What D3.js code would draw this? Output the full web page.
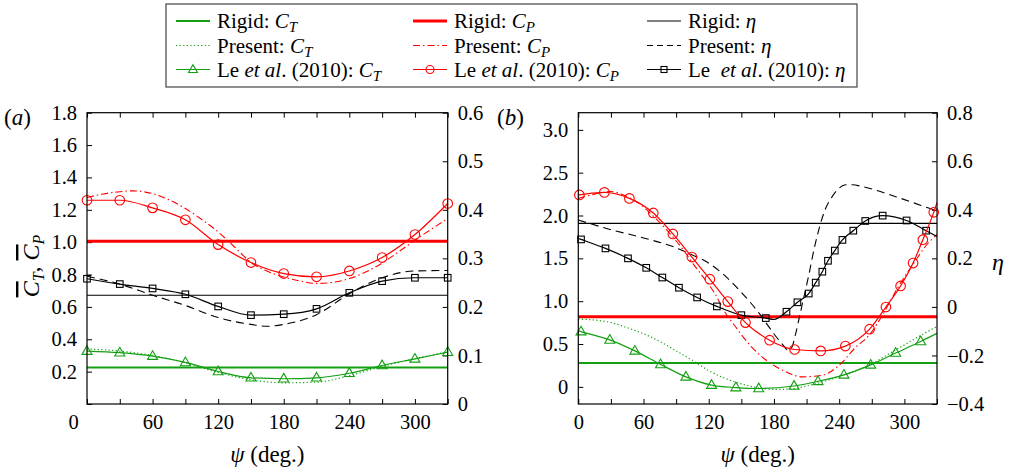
<!DOCTYPE html>
<html><head><meta charset="utf-8">
<script src="https://cdn.jsdelivr.net/npm/d3@7"></script>
<style>
body{margin:0;background:#fff}
svg{display:block}
svg text{font-family:"Liberation Serif","Times New Roman",Times,serif !important;fill:#000}
</style></head>
<body><svg id="c" width="1017" height="472" font-family="Liberation Serif"></svg>
<script>
// ---------------- DATA ----------------
const xTicks = [0, 30, 60, 90, 120, 150, 180, 210, 240, 270, 300, 330];
const xLabels = [0, 60, 120, 180, 240, 300];

// Panel (a)
const aLeftTicks = [0, 0.2, 0.4, 0.6, 0.8, 1.0, 1.2, 1.4, 1.6, 1.8];
const aLeftLabels = [0.2, 0.4, 0.6, 0.8, 1.0, 1.2, 1.4, 1.6, 1.8];
const aRightTicks = [0, 0.1, 0.2, 0.3, 0.4, 0.5, 0.6];
const aRigidCT = 0.225, aRigidCP = 1.005, aRigidEta = 0.224;
const aPresentCT = [[0,0.34],[30,0.327],[60,0.30],[90,0.255],[120,0.195],[150,0.15],[180,0.131],[210,0.135],[240,0.175],[270,0.232],[300,0.28],[330,0.322]];
const aPresentCP = [[0,1.276],[15,1.298],[30,1.312],[42,1.317],[60,1.30],[75,1.262],[90,1.208],[105,1.14],[120,1.063],[135,0.97],[150,0.875],[165,0.82],[180,0.785],[195,0.76],[210,0.745],[225,0.752],[240,0.775],[255,0.815],[270,0.871],[285,0.94],[300,1.012],[315,1.08],[330,1.146]];
const aPresentEta = [[0,0.263],[30,0.247],[60,0.224],[90,0.203],[120,0.178],[150,0.164],[165,0.16],[180,0.164],[210,0.184],[240,0.227],[270,0.26],[300,0.274],[330,0.275]];
const aLeCT = [[0,0.327],[30,0.317],[60,0.296],[90,0.257],[120,0.201],[150,0.162],[180,0.156],[210,0.162],[240,0.19],[270,0.238],[300,0.279],[330,0.32]];
const aLeCP = [[0,1.259],[30,1.259],[60,1.212],[90,1.138],[120,0.985],[150,0.874],[180,0.806],[210,0.786],[240,0.822],[270,0.905],[300,1.047],[330,1.239]];
const aLeEta = [[0,0.258],[30,0.247],[60,0.238],[90,0.226],[120,0.201],[150,0.183],[180,0.185],[210,0.196],[240,0.229],[270,0.253],[300,0.26],[330,0.26]];

// Panel (b)
const bLeftTicks = [0, 0.5, 1.0, 1.5, 2.0, 2.5, 3.0];
const bLeftLabels = ["0", "0.5", "1.0", "1.5", "2.0", "2.5", "3.0"];
const bRightTicks = [-0.4, -0.2, 0, 0.2, 0.4, 0.6, 0.8];
const bRightLabels = ["\u22120.4", "\u22120.2", "0", "0.2", "0.4", "0.6", "0.8"];
const bRigidCT = 0.28, bRigidCP = 0.817, bRigidEta = 0.344;
const bPresentCT = [[0,0.79],[15,0.78],[30,0.75],[45,0.69],[60,0.62],[75,0.53],[90,0.42],[105,0.31],[120,0.19],[135,0.10],[150,0.035],[165,-0.01],[180,-0.03],[195,-0.025],[210,0.01],[225,0.06],[240,0.12],[255,0.19],[270,0.27],[285,0.38],[300,0.49],[315,0.6],[330,0.705]];
const bPresentCP = [[0,2.20],[15,2.25],[30,2.28],[45,2.22],[60,2.10],[70,1.98],[87,1.75],[96.5,1.60],[106,1.43],[115,1.28],[125.6,1.09],[136,0.85],[142.4,0.74],[157.7,0.49],[173,0.31],[188,0.195],[206,0.117],[225,0.137],[240,0.253],[255,0.46],[268,0.61],[279,0.82],[295,1.18],[309,1.45],[320,1.65],[330,1.78]];
const bPresentEta = [[0,0.358],[30,0.318],[61,0.283],[92,0.24],[105,0.214],[118,0.186],[136,0.124],[150,0.06],[158,0.02],[167,-0.03],[175,-0.08],[182,-0.123],[188,-0.155],[193,-0.178],[196,-0.17],[200,-0.11],[204,-0.03],[208,0.05],[212,0.13],[217,0.24],[222,0.33],[227,0.40],[233,0.45],[239,0.485],[246,0.503],[252,0.503],[262,0.495],[292,0.454],[323,0.406],[330,0.395]];
const bLeCT = [[2.5,0.645],[29,0.548],[52,0.42],[75.7,0.262],[99,0.117],[122.6,0.021],[145,-0.008],[166,-0.019],[198.5,0.01],[220.5,0.065],[244.4,0.14],[269,0.257],[292,0.395],[315,0.53]];
const bLeCTLine = [[0,0.655],[330,0.625]];
const bLeCP = [[1,2.24],[24,2.27],[47,2.20],[69,2.03],[87,1.785],[104.5,1.515],[121,1.257],[137.5,0.995],[153.8,0.75],[176,0.545],[199,0.436],[223,0.42],[245.7,0.476],[268,0.673],[283,0.932],[296.5,1.178],[308,1.445],[317,1.718],[327,2.037]];
const bLeCPLine = [[0,2.23],[330,2.15]];
const bLeEta = [[2.5,0.278],[25,0.241],[45.7,0.2],[62.5,0.161],[77.3,0.121],[92.6,0.079],[109.3,0.039],[127.5,0.002],[150,-0.034],[172.5,-0.046],[191.5,-0.02],[201.6,0.019],[212,0.055],[218.4,0.1],[224.5,0.145],[229.7,0.19],[236,0.232],[243,0.276],[253,0.314],[264,0.354],[280,0.376],[302,0.356],[320,0.314]];
const bLeEtaLine = [[0,0.282],[180,-0.052],[330,0.29]];

// ---------------- STYLE ----------------
const GREEN = "#12a012", RED = "#ff0000", BLACK = "#000";
const FONT = '"Liberation Serif","Times New Roman",Times,serif';
const FS = 20.5, LFS = 21, TFS = 23;
const svg = d3.select("#c");

function styleAxis(g) {
  g.select(".domain").remove();
  g.selectAll("line").attr("stroke", "#000").attr("stroke-width", 1);
  g.selectAll("text").attr("font-family", FONT).attr("font-size", FS).attr("fill", "#000");
  g.attr("font-family", FONT).attr("font-size", FS);
}

function mergeLine(pts, extra) {
  return pts.concat(extra || []).sort((a, b) => a[0] - b[0]);
}

function marker(g, type, cx, cy, color, s) {
  if (type === "circle") {
    g.append("circle").attr("cx", cx).attr("cy", cy).attr("r", s)
      .attr("fill", "none").attr("stroke", color).attr("stroke-width", 1.1);
  } else if (type === "square") {
    g.append("rect").attr("x", cx - s).attr("y", cy - s).attr("width", 2 * s).attr("height", 2 * s)
      .attr("fill", "none").attr("stroke", color).attr("stroke-width", 1.1);
  } else {
    const h = s * 1.732;
    g.append("path").attr("d", `M${cx},${cy - h * 0.62}L${cx + s},${cy + h * 0.38}L${cx - s},${cy + h * 0.38}Z`)
      .attr("fill", "none").attr("stroke", color).attr("stroke-width", 1.1);
  }
}

function drawPanel(p) {
  const g = svg.append("g");
  const x = d3.scaleLinear().domain([0, 330]).range([p.x0, p.x1]);
  const y = d3.scaleLinear().domain(p.yDom).range([p.y1, p.y0]);
  const yR = d3.scaleLinear().domain(p.yRDom).range([p.y1, p.y0]);

  // axes
  const gb = g.append("g").attr("transform", `translate(0,${p.y1})`)
    .call(d3.axisBottom(x).tickValues(xTicks).tickSize(-5).tickPadding(10)
      .tickFormat(d => xLabels.includes(d) ? String(d) : ""));
  styleAxis(gb);
  gb.selectAll(".tick text").filter(d => d === 0).attr("dx", p.zeroShift);
  const gt = g.append("g").attr("transform", `translate(0,${p.y0})`)
    .call(d3.axisTop(x).tickValues(xTicks).tickSize(-5).tickFormat(""));
  styleAxis(gt);
  const gl = g.append("g").attr("transform", `translate(${p.x0},0)`)
    .call(d3.axisLeft(y).tickValues(p.leftTicks).tickSize(-5).tickPadding(10)
      .tickFormat((d, i) => p.leftFmt(d, i)));
  styleAxis(gl);
  const gr = g.append("g").attr("transform", `translate(${p.x1},0)`)
    .call(d3.axisRight(yR).tickValues(p.rightTicks).tickSize(-5).tickPadding(10)
      .tickFormat((d, i) => p.rightFmt(d, i)));
  styleAxis(gr);

  const line = sc => d3.line().x(d => x(d[0])).y(d => sc(d[1])).curve(d3.curveMonotoneX);

  // rigid
  const hl = (v, sc, color, w) => g.append("line").attr("x1", p.x0).attr("x2", p.x1)
    .attr("y1", sc(v)).attr("y2", sc(v)).attr("stroke", color).attr("stroke-width", w);
  hl(p.rigidEta, yR, BLACK, 1.2);
  hl(p.rigidCT, y, GREEN, 2);
  hl(p.rigidCP, y, RED, 3);

  // present
  g.append("path").attr("d", line(y)(p.presentCT)).attr("fill", "none")
    .attr("stroke", GREEN).attr("stroke-width", 1.2).attr("stroke-dasharray", "1.2,2.4");
  g.append("path").attr("d", line(yR)(p.presentEta)).attr("fill", "none")
    .attr("stroke", BLACK).attr("stroke-width", 1.1).attr("stroke-dasharray", "8,5");
  g.append("path").attr("d", line(y)(p.presentCP)).attr("fill", "none")
    .attr("stroke", RED).attr("stroke-width", 1.1).attr("stroke-dasharray", "7,3,1.5,3");

  // Le et al.
  const le = (pts, extra, sc, color, type, s) => {
    g.append("path").attr("d", line(sc)(mergeLine(pts, extra))).attr("fill", "none")
      .attr("stroke", color).attr("stroke-width", 1.2);
    pts.forEach(d => marker(g, type, x(d[0]), sc(d[1]), color, s));
  };
  le(p.leEta, p.leEtaLine, yR, BLACK, "square", 3.3);
  le(p.leCT, p.leCTLine, y, GREEN, "tri", 5);
  le(p.leCP, p.leCPLine, y, RED, "circle", 4.8);

  // frame
  g.append("rect").attr("x", p.x0).attr("y", p.y0).attr("width", p.x1 - p.x0).attr("height", p.y1 - p.y0)
    .attr("fill", "none").attr("stroke", "#000").attr("stroke-width", 1.2);

  // x title
  const xt = g.append("text").attr("x", (p.x0 + p.x1) / 2).attr("y", 462).attr("text-anchor", "middle")
    .attr("font-family", FONT).attr("font-size", TFS);
  xt.append("tspan").attr("font-style", "italic").text("\u03C8");
  xt.append("tspan").text(" (deg.)");

  // panel label
  const pl = g.append("text").attr("x", p.labX).attr("y", 125).attr("font-family", FONT).attr("font-size", 23);
  pl.append("tspan").text("(");
  pl.append("tspan").attr("font-style", "italic").text(p.id);
  pl.append("tspan").text(")");
}

drawPanel({
  id: "a", x0: 87, x1: 447.7, y0: 112.7, y1: 404, yDom: [0, 1.8], yRDom: [0, 0.6],
  leftTicks: aLeftTicks, leftFmt: d => aLeftLabels.some(v => Math.abs(v - d) < 1e-9) ? d.toFixed(1) : "",
  rightTicks: aRightTicks, rightFmt: d => d === 0 ? "0" : d.toFixed(1),
  zeroShift: -14, labX: 4,
  rigidCT: aRigidCT, rigidCP: aRigidCP, rigidEta: aRigidEta,
  presentCT: aPresentCT, presentCP: aPresentCP, presentEta: aPresentEta,
  leCT: aLeCT, leCP: aLeCP, leEta: aLeEta, leCTLine: [], leCPLine: [], leEtaLine: []
});
drawPanel({
  id: "b", x0: 578.3, x1: 937, y0: 112.7, y1: 404, yDom: [-0.2, 3.2], yRDom: [-0.4, 0.8],
  leftTicks: bLeftTicks, leftFmt: (d, i) => bLeftLabels[i],
  rightTicks: bRightTicks, rightFmt: (d, i) => bRightLabels[i],
  zeroShift: 0, labX: 497,
  rigidCT: bRigidCT, rigidCP: bRigidCP, rigidEta: bRigidEta,
  presentCT: bPresentCT, presentCP: bPresentCP, presentEta: bPresentEta,
  leCT: bLeCT, leCP: bLeCP, leEta: bLeEta, leCTLine: bLeCTLine, leCPLine: bLeCPLine, leEtaLine: bLeEtaLine
});

// y title panel a
const yt = svg.append("text").attr("transform", "translate(39,266) rotate(-90)")
  .attr("text-anchor", "middle").attr("font-family", FONT).attr("font-size", 24);
yt.append("tspan").attr("font-style", "italic").attr("text-decoration", "overline").text("C");
yt.append("tspan").attr("font-style", "italic").attr("font-size", 16).attr("dy", 5).text("T");
yt.append("tspan").attr("dy", -5).text(", ");
yt.append("tspan").attr("font-style", "italic").attr("text-decoration", "overline").text("C");
yt.append("tspan").attr("font-style", "italic").attr("font-size", 16).attr("dy", 5).text("P");

// eta title panel b
svg.append("text").attr("x", 998).attr("y", 270).attr("text-anchor", "middle")
  .attr("font-family", FONT).attr("font-size", 24).attr("font-style", "italic").text("\u03B7");

// ---------------- LEGEND ----------------
const legendCols = [176, 413, 647];
const legendRows = [28, 52.5, 76.5];
const legendItems = [
  {c: 0, r: 0, color: GREEN, w: 2, dash: null, m: null, parts: [["Rigid: "], ["C", "i"], ["T", "s"]]},
  {c: 0, r: 1, color: GREEN, w: 1.2, dash: "1.2,2.4", m: null, parts: [["Present: "], ["C", "i"], ["T", "s"]]},
  {c: 0, r: 2, color: GREEN, w: 1.2, dash: null, m: "tri", parts: [["Le "], ["et al", "i"], [". (2010): "], ["C", "i"], ["T", "s"]]},
  {c: 1, r: 0, color: RED, w: 3, dash: null, m: null, parts: [["Rigid: "], ["C", "i"], ["P", "s"]]},
  {c: 1, r: 1, color: RED, w: 1.1, dash: "7,3,1.5,3", m: null, parts: [["Present: "], ["C", "i"], ["P", "s"]]},
  {c: 1, r: 2, color: RED, w: 1.2, dash: null, m: "circle", parts: [["Le "], ["et al", "i"], [". (2010): "], ["C", "i"], ["P", "s"]]},
  {c: 2, r: 0, color: BLACK, w: 1.2, dash: null, m: null, parts: [["Rigid: "], ["\u03B7", "i"]]},
  {c: 2, r: 1, color: BLACK, w: 1.1, dash: "6,4", m: null, parts: [["Present: "], ["\u03B7", "i"]]},
  {c: 2, r: 2, color: BLACK, w: 1.2, dash: null, m: "square", parts: [["Le\u00A0 "], ["et al", "i"], [". (2010): "], ["\u03B7", "i"]]}
];
const lg = svg.append("g");
lg.append("rect").attr("x", 166).attr("y", 4).attr("width", 691).attr("height", 83)
  .attr("fill", "#fff").attr("stroke", "#444").attr("stroke-width", 1.2);
legendItems.forEach(it => {
  const lx = legendCols[it.c], ly = legendRows[it.r];
  const ln = lg.append("line").attr("x1", lx).attr("x2", lx + 34).attr("y1", ly - 7).attr("y2", ly - 7)
    .attr("stroke", it.color).attr("stroke-width", it.w);
  if (it.dash) ln.attr("stroke-dasharray", it.dash);
  if (it.m) marker(lg, it.m, lx + 17, ly - 7, it.color, it.m === "square" ? 3 : (it.m === "tri" ? 4.5 : 4));
  const t = lg.append("text").attr("x", lx + 41).attr("y", ly).attr("font-family", FONT).attr("font-size", LFS);
  let sub = false;
  it.parts.forEach(pt => {
    const ts = t.append("tspan").text(pt[0]);
    if (pt[1] === "i") ts.attr("font-style", "italic");
    if (pt[1] === "s") { ts.attr("font-style", "italic").attr("font-size", 15).attr("dy", 4); sub = true; }
    else if (sub) { ts.attr("dy", -4); sub = false; }
  });
});
</script>
</body></html>
